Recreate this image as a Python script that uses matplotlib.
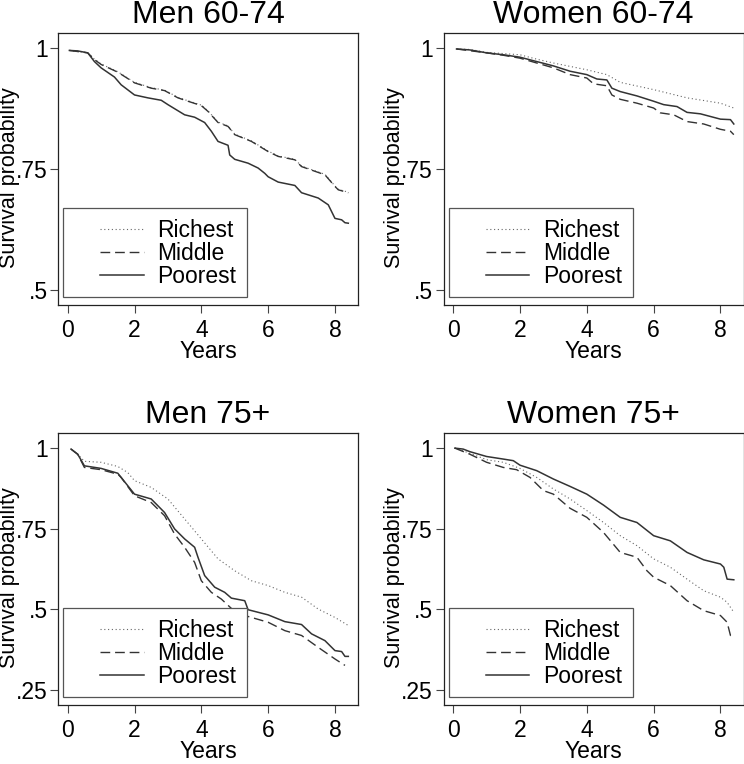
import matplotlib
matplotlib.use('Agg')
import matplotlib.pyplot as plt
from matplotlib.patches import Rectangle

plt.rcParams['font.family'] = ['Liberation Sans', 'DejaVu Sans']

groups = ['Richest', 'Middle', 'Poorest']
titles = ['Men 60-74', 'Women 60-74', 'Men 75+', 'Women 75+']

# Men 60-74
m1_rich_t = [0.05, 0.6, 0.8, 1.0, 1.5, 2.0, 2.5, 2.9, 3.3, 3.6, 4.0, 4.2, 4.5, 4.8, 5.0, 5.5, 6.0, 6.3, 6.8, 7.0, 7.7, 8.0, 8.1, 8.4]
m1_rich_s = [0.995, 0.99, 0.977, 0.967, 0.951, 0.929, 0.918, 0.913, 0.898, 0.891, 0.882, 0.870, 0.847, 0.839, 0.822, 0.808, 0.787, 0.777, 0.770, 0.756, 0.739, 0.715, 0.708, 0.702]
m1_mid_t = [0.05, 0.6, 0.8, 1.0, 1.5, 2.0, 2.5, 2.9, 3.3, 3.6, 4.0, 4.2, 4.5, 4.8, 5.0, 5.5, 6.0, 6.3, 6.8, 7.0, 7.7, 8.0, 8.1, 8.4]
m1_mid_s = [0.995, 0.99, 0.976, 0.966, 0.95, 0.928, 0.917, 0.912, 0.897, 0.89, 0.881, 0.869, 0.846, 0.838, 0.821, 0.807, 0.786, 0.776, 0.769, 0.755, 0.738, 0.714, 0.707, 0.701]
m1_poor_t = [0.05, 0.3, 0.6, 0.8, 1.0, 1.4, 1.6, 2.0, 2.4, 2.8, 3.0, 3.5, 3.8, 4.1, 4.3, 4.5, 4.8, 4.85, 5.0, 5.4, 5.7, 5.9, 6.0, 6.3, 6.8, 7.0, 7.5, 7.8, 8.0, 8.2, 8.3, 8.4]
m1_poor_s = [0.995, 0.994, 0.99, 0.972, 0.959, 0.94, 0.924, 0.903, 0.897, 0.892, 0.883, 0.862, 0.857, 0.846, 0.828, 0.807, 0.799, 0.779, 0.77, 0.762, 0.752, 0.741, 0.734, 0.723, 0.716, 0.701, 0.69, 0.676, 0.648, 0.645, 0.639, 0.638]

# Women 60-74
w1_rich_t = [0.1, 0.5, 1.0, 2.0, 2.5, 3.0, 3.5, 4.0, 4.6, 5.0, 6.0, 7.0, 8.0, 8.4]
w1_rich_s = [0.998, 0.997, 0.991, 0.986, 0.977, 0.969, 0.962, 0.955, 0.945, 0.929, 0.914, 0.897, 0.886, 0.876]
w1_mid_t = [0.1, 1.0, 1.5, 2.0, 2.5, 3.0, 3.5, 4.0, 4.2, 4.6, 4.75, 5.0, 5.5, 6.0, 6.2, 6.6, 7.0, 7.5, 8.0, 8.3, 8.4]
w1_mid_s = [0.998, 0.99, 0.985, 0.979, 0.969, 0.959, 0.945, 0.938, 0.926, 0.922, 0.903, 0.894, 0.886, 0.876, 0.866, 0.862, 0.848, 0.843, 0.832, 0.828, 0.821]
w1_poor_t = [0.1, 0.5, 1.0, 1.5, 2.0, 2.5, 3.0, 3.5, 4.0, 4.3, 4.6, 4.75, 5.0, 5.5, 6.0, 6.3, 6.7, 7.0, 7.4, 8.0, 8.3, 8.4]
w1_poor_s = [0.998, 0.996, 0.99, 0.986, 0.981, 0.972, 0.963, 0.952, 0.945, 0.936, 0.934, 0.917, 0.91, 0.901, 0.89, 0.883, 0.879, 0.867, 0.864, 0.853, 0.852, 0.843]

# Men 75+
m2_rich_t = [0.1, 0.3, 0.5, 1.0, 1.5, 1.8, 2.0, 2.5, 3.0, 3.5, 4.0, 4.5, 5.0, 5.5, 6.0, 6.5, 7.0, 7.5, 8.0, 8.4]
m2_rich_s = [0.997, 0.981, 0.959, 0.956, 0.943, 0.924, 0.899, 0.878, 0.842, 0.78, 0.718, 0.656, 0.619, 0.588, 0.573, 0.552, 0.537, 0.50, 0.474, 0.449]
m2_mid_t = [0.1, 0.3, 0.5, 1.0, 1.5, 1.6, 2.0, 2.5, 2.9, 3.2, 3.5, 3.8, 4.0, 4.3, 4.6, 4.9, 5.3, 6.0, 6.5, 7.0, 7.5, 8.0, 8.3]
m2_mid_s = [0.997, 0.981, 0.94, 0.933, 0.919, 0.909, 0.852, 0.831, 0.79, 0.733, 0.692, 0.645, 0.588, 0.552, 0.531, 0.502, 0.48, 0.459, 0.433, 0.418, 0.381, 0.345, 0.325]
m2_poor_t = [0.1, 0.3, 0.5, 1.0, 1.5, 1.6, 2.0, 2.5, 2.9, 3.2, 3.5, 3.8, 3.9, 4.1, 4.4, 4.7, 4.9, 5.3, 5.4, 6.0, 6.5, 7.0, 7.3, 7.7, 8.0, 8.2, 8.3, 8.4]
m2_poor_s = [0.997, 0.981, 0.945, 0.937, 0.922, 0.909, 0.857, 0.842, 0.80, 0.749, 0.718, 0.692, 0.661, 0.604, 0.568, 0.552, 0.534, 0.526, 0.498, 0.482, 0.461, 0.452, 0.423, 0.402, 0.371, 0.368, 0.353, 0.353]

# Women 75+
w2_rich_t = [0.05, 0.5, 1.0, 1.5, 2.0, 2.5, 3.0, 3.5, 4.0, 4.5, 5.0, 5.5, 6.0, 6.5, 7.0, 7.5, 8.0, 8.2, 8.4]
w2_rich_s = [1.0, 0.984, 0.964, 0.956, 0.937, 0.909, 0.873, 0.842, 0.806, 0.769, 0.728, 0.697, 0.656, 0.63, 0.593, 0.557, 0.537, 0.521, 0.49]
w2_mid_t = [0.05, 0.5, 0.8, 1.0, 1.5, 1.9, 2.3, 2.7, 3.0, 3.5, 4.0, 4.5, 5.0, 5.5, 5.8, 6.0, 6.5, 7.0, 7.5, 8.0, 8.2, 8.3, 8.4]
w2_mid_s = [1.0, 0.981, 0.966, 0.956, 0.94, 0.933, 0.909, 0.868, 0.857, 0.813, 0.785, 0.738, 0.676, 0.661, 0.619, 0.599, 0.573, 0.526, 0.495, 0.48, 0.459, 0.418, 0.416]
w2_poor_t = [0.05, 0.3, 0.5, 1.0, 1.5, 1.8, 2.0, 2.5, 3.0, 3.5, 4.0, 4.5, 5.0, 5.5, 6.0, 6.5, 7.0, 7.5, 8.0, 8.1, 8.2, 8.4]
w2_poor_s = [1.0, 0.997, 0.989, 0.974, 0.966, 0.961, 0.947, 0.93, 0.904, 0.881, 0.857, 0.823, 0.785, 0.769, 0.728, 0.712, 0.676, 0.653, 0.64, 0.63, 0.593, 0.591]

panels = [
    [(m1_rich_t, m1_rich_s), (m1_mid_t, m1_mid_s), (m1_poor_t, m1_poor_s)],
    [(w1_rich_t, w1_rich_s), (w1_mid_t, w1_mid_s), (w1_poor_t, w1_poor_s)],
    [(m2_rich_t, m2_rich_s), (m2_mid_t, m2_mid_s), (m2_poor_t, m2_poor_s)],
    [(w2_rich_t, w2_rich_s), (w2_mid_t, w2_mid_s), (w2_poor_t, w2_poor_s)],
]

top_ticks = [1, 0.75, 0.5]
top_labels = ['1', '.75', '.5']
bot_ticks = [1, 0.75, 0.5, 0.25]
bot_labels = ['1', '.75', '.5', '.25']
x_ticks = [0, 2, 4, 6, 8]

W, H = 744, 764
fig = plt.figure(figsize=(W / 100, H / 100), dpi=100)

# axes boxes in pixels: left, top, right, bottom
boxes = [(58, 33, 358, 305), (443.5, 33, 743.5, 305),
         (58, 433, 358, 705), (443.5, 433, 743.5, 705)]

styles = [dict(color='#666666', lw=0.8, linestyle=(0, (1, 2.4))),
          dict(color='#333333', lw=1.0, linestyle=(0, (7, 3.5))),
          dict(color='#333333', lw=1.1, linestyle='-')]

ink = '#222222'
fs = 16.5

for i, (l, t, r, b) in enumerate(boxes):
    ax = fig.add_axes([l / W, (H - b) / H, (r - l) / W, (b - t) / H])
    for (tt, ss), st, name in zip(panels[i], styles, groups):
        ax.plot(tt, ss, label=name, zorder=2, **st)

    ax.set_xlim(-0.29, 8.69)
    if i < 2:
        ax.set_ylim(0.469, 1.031)
        ax.set_yticks(top_ticks)
        ax.set_yticklabels(top_labels)
    else:
        ax.set_ylim(0.202, 1.047)
        ax.set_yticks(bot_ticks)
        ax.set_yticklabels(bot_labels)
    ax.set_xticks(x_ticks)

    for sp in ax.spines.values():
        sp.set_color(ink)
        sp.set_linewidth(0.9)
    ax.tick_params(direction='out', length=6, width=0.8, color='#444444',
                   labelsize=fs, labelcolor='black')
    ax.tick_params(axis='x', pad=4)
    ax.tick_params(axis='y', pad=1.5)

    ax.set_title(titles[i], fontsize=23, pad=7)
    ax.set_xlabel('Years', fontsize=fs, labelpad=-1)
    ax.set_ylabel('Survival probability', fontsize=15.5)
    ax.yaxis.set_label_coords(-0.128, 0.47)

    # legend frame drawn as a patch so lines pass behind it
    ax.add_patch(Rectangle((0.017, 0.03), 0.613, 0.326, transform=ax.transAxes,
                           facecolor='white', edgecolor='#555555', lw=0.9,
                           zorder=3))
    leg = ax.legend(loc='center left', bbox_to_anchor=(0.14, 0.19),
                    frameon=False, fontsize=fs, handlelength=1.9,
                    handletextpad=0.6, labelspacing=0.0, borderpad=0,
                    borderaxespad=0)
    leg.set_zorder(4)

fig.savefig('out.png', dpi=100)
